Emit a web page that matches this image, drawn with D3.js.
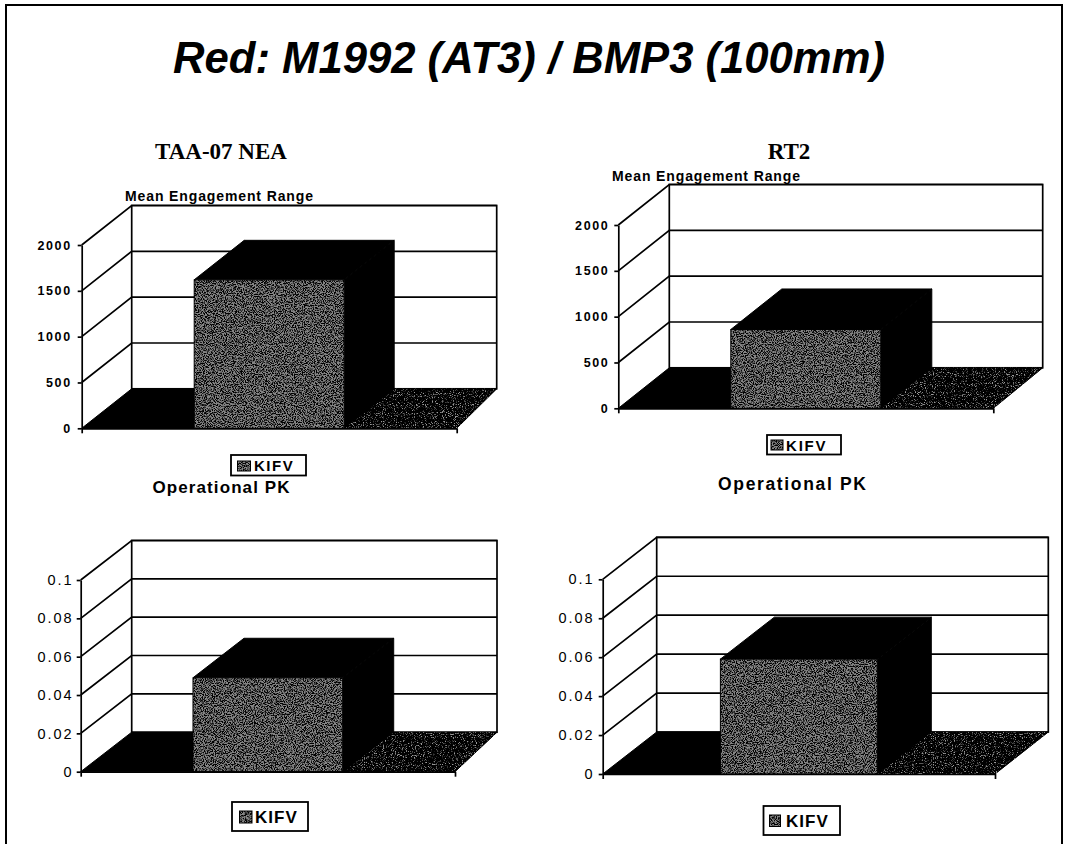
<!DOCTYPE html>
<html><head><meta charset="utf-8">
<script src="https://cdn.jsdelivr.net/npm/d3@7"></script>
<style>body{margin:0;background:#fff} svg{display:block}</style>
</head><body>
<script>
// ---------------- data ----------------
const mainTitle = "Red: M1992 (AT3) / BMP3 (100mm)";
const scenarios = ["TAA-07 NEA", "RT2"];
const metrics = ["Mean Engagement Range", "Operational PK"];
const categories = ["KIFV"];
const rangeValues = [1620, 860];      // TAA-07 NEA, RT2
const pkValues = [0.049, 0.059];      // TAA-07 NEA, RT2
const rangeTicks = [0, 500, 1000, 1500, 2000];
const rangeTickLabels = ["0", "500", "1000", "1500", "2000"];
const pkTicks = [0, 0.02, 0.04, 0.06, 0.08, 0.1];
const pkTickLabels = ["0", "0.02", "0.04", "0.06", "0.08", "0.1"];

// ---------------- layout ----------------
const W = 1065, H = 844;
const SANS = "'Liberation Sans', Arial, Helvetica, sans-serif";
const SERIF = "'Liberation Serif', 'Times New Roman', serif";

const svg = d3.select("body").append("svg").attr("width", W).attr("height", H);
svg.append("rect").attr("width", W).attr("height", H).attr("fill", "#fff");
const defs = svg.append("defs");

function grainFilter(id, color, slope, intercept, seed, freq) {
  const f = defs.append("filter").attr("id", id)
    .attr("x", "0%").attr("y", "0%").attr("width", "100%").attr("height", "100%")
    .attr("color-interpolation-filters", "sRGB");
  f.append("feTurbulence").attr("type", "fractalNoise").attr("baseFrequency", freq)
    .attr("numOctaves", 2).attr("seed", seed).attr("result", "n");
  const c = d3.color(color);
  f.append("feColorMatrix").attr("in", "n").attr("type", "matrix")
    .attr("values", `0 0 0 0 ${c.r/255} 0 0 0 0 ${c.g/255} 0 0 0 0 ${c.b/255} ${slope} 0 0 0 ${intercept}`)
    .attr("result", "d");
  f.append("feComposite").attr("in", "d").attr("in2", "SourceGraphic").attr("operator", "in").attr("result", "dc");
  const m = f.append("feMerge");
  m.append("feMergeNode").attr("in", "SourceGraphic");
  m.append("feMergeNode").attr("in", "dc");
}
grainFilter("grainDark", "#000000", -5, 2.9, 7, 0.9);
grainFilter("grainLight", "#9a9a9a", 5, -2.75, 11, 0.9);

// outer frame
svg.append("path").attr("d", "M6,844L6,5L1062,5L1062,844")
  .attr("fill", "none").attr("stroke", "#000").attr("stroke-width", 2);

// main title
svg.append("text").attr("x", 173).attr("y", 73)
  .attr("font-family", SANS).attr("font-weight", "bold").attr("font-style", "italic")
  .attr("font-size", 45).attr("textLength", 712).attr("lengthAdjust", "spacingAndGlyphs")
  .text(mainTitle);

// scenario headers
const headerPos = [{x: 221, y: 159}, {x: 789, y: 159}];
scenarios.forEach((s, i) => {
  svg.append("text").attr("x", headerPos[i].x).attr("y", headerPos[i].y)
    .attr("text-anchor", "middle").attr("font-family", SERIF).attr("font-weight", "bold")
    .attr("font-size", 23).text(s);
});

const panels = [
  {scen: 0, metric: 0, values: rangeValues, ticks: rangeTicks, labels: rangeTickLabels, max: 2000,
   x0: 81.7, x1: 456.7, y0: 428.3, yTop: 245, dxL: 50, dxR: 40, dy: -39.5,
   tickFont: {size: 12.5, weight: "bold", pad: 6, ls: 1.6},
   title: {x: 219, y: 201, len: 188, size: 14},
   legend: {x: 231, y: 455, w: 75, h: 20.5, sx: 237.5, sy: 461, sw: 13, sh: 10, tx: 254, ty: 471, fs: 15, ls: 1.5}},
  {scen: 1, metric: 0, values: rangeValues, ticks: rangeTicks, labels: rangeTickLabels, max: 2000,
   x0: 618.3, x1: 993.3, y0: 408.3, yTop: 225, dxL: 51, dxR: 49.4, dy: -40.5,
   tickFont: {size: 12.5, weight: "bold", pad: 5, ls: 1.6},
   title: {x: 706, y: 181, len: 188, size: 14},
   legend: {x: 767, y: 435, w: 74, h: 19.5, sx: 771, sy: 440, sw: 12, sh: 10, tx: 786, ty: 450.5, fs: 15, ls: 1.8}},
  {scen: 0, metric: 1, values: pkValues, ticks: pkTicks, labels: pkTickLabels, max: 0.1,
   x0: 80.7, x1: 455, y0: 771.7, yTop: 580, dxL: 51, dxR: 42, dy: -39.5,
   tickFont: {size: 14.5, weight: "normal", pad: 3, ls: 2},
   title: {x: 221, y: 493, len: 137, size: 17},
   legend: {x: 232, y: 802, w: 76, h: 29, sx: 239.5, sy: 811, sw: 12.5, sh: 12, tx: 255, ty: 823, fs: 17, ls: 1}},
  {scen: 1, metric: 1, values: pkValues, ticks: pkTicks, labels: pkTickLabels, max: 0.1,
   x0: 602.7, x1: 995, y0: 774, yTop: 579.3, dxL: 54, dxR: 53.3, dy: -42,
   tickFont: {size: 14.5, weight: "normal", pad: 4, ls: 2},
   title: {x: 792, y: 490, len: 148, size: 17.5},
   legend: {x: 763.5, y: 806, w: 76.5, h: 29, sx: 769.5, sy: 815, sw: 11, sh: 11.5, tx: 786, ty: 827, fs: 17, ls: 1}}
];

function drawPanel(p) {
  const g = svg.append("g");
  const y = d3.scaleLinear().domain([0, p.max]).range([p.y0, p.yTop]);
  const x = d3.scaleBand().domain(categories).range([p.x0, p.x1]).paddingInner(0.6).paddingOuter(0.3);
  const bx0 = p.x0 + p.dxL, bx1 = p.x1 + p.dxR;
  const yb = v => y(v) + p.dy;
  const lw = 1.7;

  // back wall
  g.append("rect").attr("x", bx0).attr("y", yb(p.max)).attr("width", bx1 - bx0)
    .attr("height", yb(0) - yb(p.max)).attr("fill", "#fff").attr("stroke", "#000").attr("stroke-width", lw);

  // gridlines on side wall and back wall
  g.selectAll("path.grid").data(p.ticks.filter(t => t > 0)).join("path").attr("class", "grid")
    .attr("d", t => `M${p.x0},${y(t)}L${bx0},${yb(t)}L${bx1},${yb(t)}`)
    .attr("fill", "none").attr("stroke", "#000").attr("stroke-width", lw);

  // floor
  g.append("path").attr("d", `M${p.x0},${p.y0}L${p.x1},${p.y0}L${bx1},${yb(0)}L${bx0},${yb(0)}Z`)
    .attr("fill", "#000").attr("stroke", "#000").attr("stroke-width", 1);
  const xs = x(categories[0]);
  const fr = xs + x.bandwidth() * 0.9;
  g.append("path").attr("d", `M${fr},${p.y0}L${p.x1},${p.y0}L${bx1},${yb(0)}L${fr + p.dxL},${yb(0)}Z`)
    .attr("fill", "#000").attr("filter", "url(#grainLight)");

  // bar
  const v = p.values[p.scen];
  categories.forEach(c => {
    const xl = x(c), xr = x(c) + x.bandwidth(), yt = y(v), d = p.dxL;
    g.append("path").attr("d", `M${xr},${yt}L${xr + d},${yt + p.dy}L${xr + d},${p.y0 + p.dy}L${xr},${p.y0}Z`)
      .attr("fill", "#000").attr("stroke", "#000").attr("stroke-width", 1);
    g.append("path").attr("d", `M${xl},${yt}L${xr},${yt}L${xr + d},${yt + p.dy}L${xl + d},${yt + p.dy}Z`)
      .attr("fill", "#000").attr("stroke", "#000").attr("stroke-width", 1);
    g.append("rect").attr("x", xl).attr("y", yt).attr("width", x.bandwidth()).attr("height", p.y0 - yt)
      .attr("fill", "#858585").attr("filter", "url(#grainDark)");
    g.append("rect").attr("x", xl).attr("y", yt).attr("width", x.bandwidth()).attr("height", p.y0 - yt)
      .attr("fill", "none").attr("stroke", "#000").attr("stroke-width", 1);
  });

  // value axis
  const axis = d3.axisLeft(y).tickValues(p.ticks).tickFormat((d, i) => p.labels[i])
    .tickSize(4).tickSizeOuter(0).tickPadding(p.tickFont.pad);
  const ag = g.append("g").attr("transform", `translate(${p.x0},0)`).call(axis);
  ag.select(".domain").attr("stroke", "#000").attr("stroke-width", lw);
  ag.selectAll(".tick line").attr("stroke", "#000").attr("stroke-width", lw);
  ag.selectAll(".tick text").attr("fill", "#000").attr("font-family", SANS)
    .attr("font-size", p.tickFont.size).attr("font-weight", p.tickFont.weight).attr("letter-spacing", p.tickFont.ls);

  // category axis (front floor edge)
  const cx = d3.scaleLinear().domain([0, 1]).range([p.x0, p.x1]);
  const cg = g.append("g").attr("transform", `translate(0,${p.y0})`)
    .call(d3.axisBottom(cx).tickValues([0, 1]).tickFormat("").tickSize(5).tickSizeOuter(0));
  cg.select(".domain").attr("stroke", "#000").attr("stroke-width", lw);
  cg.selectAll(".tick line").attr("stroke", "#000").attr("stroke-width", lw);

  // chart title
  g.append("text").attr("x", p.title.x).attr("y", p.title.y).attr("text-anchor", "middle")
    .attr("font-family", SANS).attr("font-weight", "bold").attr("font-size", p.title.size)
    .attr("textLength", p.title.len).attr("lengthAdjust", "spacing")
    .text(metrics[p.metric]);

  // legend
  const L = p.legend;
  g.append("rect").attr("x", L.x).attr("y", L.y).attr("width", L.w).attr("height", L.h)
    .attr("fill", "#fff").attr("stroke", "#000").attr("stroke-width", 1.8);
  g.append("rect").attr("x", L.sx).attr("y", L.sy).attr("width", L.sw).attr("height", L.sh)
    .attr("fill", "#858585").attr("filter", "url(#grainDark)");
  g.append("rect").attr("x", L.sx).attr("y", L.sy).attr("width", L.sw).attr("height", L.sh)
    .attr("fill", "none").attr("stroke", "#000").attr("stroke-width", 1);
  g.append("text").attr("x", L.tx).attr("y", L.ty).attr("font-family", SANS).attr("font-weight", "bold")
    .attr("font-size", L.fs).attr("letter-spacing", L.ls)
    .text(categories[0]);
}
panels.forEach(drawPanel);
</script>
</body></html>
